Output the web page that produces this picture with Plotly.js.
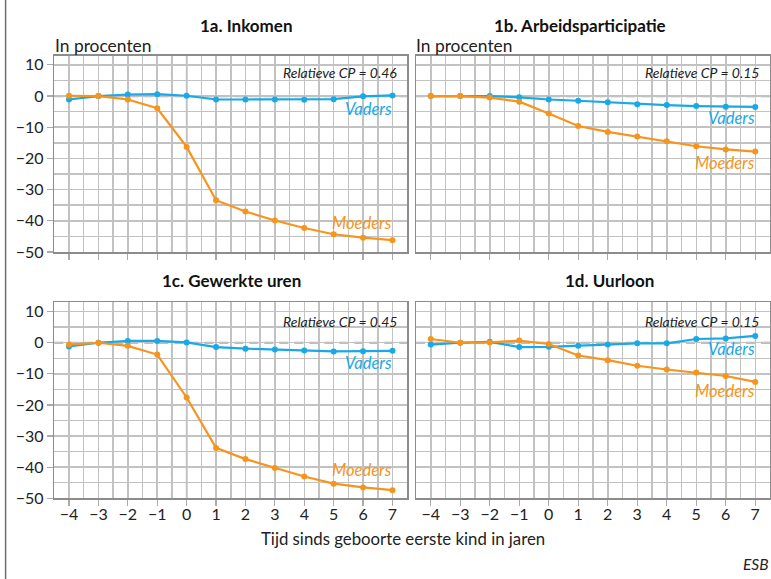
<!DOCTYPE html>
<html>
<head>
<meta charset="utf-8">
<script src="https://cdn.plot.ly/plotly-3.0.1.min.js"></script>
<style>
html,body{margin:0;padding:0;background:#fff;}
#chart{width:771px;height:579px;}
</style>
</head>
<body>
<div id="chart"></div>
<script>
// ---- data ----
const years = [-4, -3, -2, -1, 0, 1, 2, 3, 4, 5, 6, 7];
const tickLabels = ['−4', '−3', '−2', '−1', '0', '1', '2', '3', '4', '5', '6', '7'];

const inkomenVaders   = [-1.1, 0, 0.5, 0.6, 0.1, -1.1, -1.1, -1.1, -1.2, -1.0, -0.1, 0.2];
const inkomenMoeders  = [0.1, 0, -1.1, -3.9, -16.3, -33.4, -37.0, -39.9, -42.3, -44.3, -45.4, -46.2];
const arbeidVaders    = [0, 0, 0, -0.4, -1.1, -1.5, -2.0, -2.6, -2.9, -3.2, -3.4, -3.5];
const arbeidMoeders   = [0, 0, -0.5, -1.8, -5.6, -9.6, -11.5, -13.0, -14.5, -16.1, -17.1, -17.8];
const urenVaders      = [-1.2, 0, 0.6, 0.6, 0.1, -1.4, -1.9, -2.2, -2.5, -2.8, -2.7, -2.6];
const urenMoeders     = [-0.6, 0, -1.0, -3.8, -17.6, -33.8, -37.4, -40.3, -43.0, -45.3, -46.5, -47.4];
const uurloonVaders   = [-0.6, 0, 0.3, -1.4, -1.3, -1.0, -0.6, -0.2, -0.2, 1.2, 1.4, 2.2];
const uurloonMoeders  = [1.2, 0, 0.1, 0.7, -0.4, -4.1, -5.6, -7.4, -8.6, -9.6, -10.7, -12.6];

const panelTitles = ['1a. Inkomen', '1b. Arbeidsparticipatie', '1c. Gewerkte uren', '1d. Uurloon'];
const cpLabels = ['Relatieve CP = 0.46', 'Relatieve CP = 0.15', 'Relatieve CP = 0.45', 'Relatieve CP = 0.15'];

// ---- styling ----
const W = 771, H = 579;
const BLUE = '#18a9e6';
const ORANGE = '#f7941d';
const GRID = '#c2c2c2';
const AXLINE = '#8c8c8c';
const FONT = 'Lato, "Open Sans", sans-serif';

const px = v => v / W;
const py = v => 1 - v / H;

const xDomL = [px(54.3), px(407.2)];
const xDomR = [px(416), px(770)];
const yDomT = [py(252), py(55.5)];
const yDomB = [py(498.3), py(302.3)];

function xAx(domain, anchor, labels) {
  return {
    domain: domain, anchor: anchor, range: [-4.5, 7.5],
    tickmode: 'array', tickvals: years, ticktext: tickLabels,
    showticklabels: labels, ticks: 'outside', ticklen: 6, tickwidth: 1.2, tickcolor: '#aaa',
    ticklabelstandoff: -5,
    tickfont: {family: FONT, size: 16, color: '#222'},
    showgrid: true, gridcolor: GRID, gridwidth: 1.5,
    minor: {tickmode: 'array', tickvals: years.map(v => v + 0.5).concat([-4.5]), showgrid: true, gridcolor: GRID, gridwidth: 1.5, ticks: ''},
    showline: true, linecolor: AXLINE, linewidth: 1.5, mirror: true,
    zeroline: false, fixedrange: true
  };
}
function yAx(domain, anchor, labels) {
  return {
    domain: domain, anchor: anchor, range: [-50, 13],
    tickmode: 'linear', tick0: 0, dtick: 10,
    showticklabels: labels, ticks: labels ? 'outside' : '', ticklen: 6, tickwidth: 1.2, tickcolor: '#aaa',
    tickfont: {family: FONT, size: 16, color: '#222'},
    showgrid: true, gridcolor: GRID, gridwidth: 1.5,
    minor: {tick0: 0, dtick: 5, showgrid: true, gridcolor: GRID, gridwidth: 1.5, ticks: ''},
    showline: true, linecolor: AXLINE, linewidth: 1.5, mirror: true,
    zeroline: false, fixedrange: true
  };
}

function series(y, color, xa, ya, name) {
  return {
    x: years, y: y, type: 'scatter', mode: 'lines+markers', name: name,
    xaxis: xa, yaxis: ya, showlegend: false, hoverinfo: 'skip',
    line: {color: color, width: 2.2}, marker: {color: color, size: 6}
  };
}

const data = [
  series(inkomenVaders, BLUE, 'x', 'y', 'Vaders'),
  series(inkomenMoeders, ORANGE, 'x', 'y', 'Moeders'),
  series(arbeidVaders, BLUE, 'x2', 'y2', 'Vaders'),
  series(arbeidMoeders, ORANGE, 'x2', 'y2', 'Moeders'),
  series(urenVaders, BLUE, 'x3', 'y3', 'Vaders'),
  series(urenMoeders, ORANGE, 'x3', 'y3', 'Moeders'),
  series(uurloonVaders, BLUE, 'x4', 'y4', 'Vaders'),
  series(uurloonMoeders, ORANGE, 'x4', 'y4', 'Moeders')
];

const shapes = [];
const annotations = [];
const pairs = [['x', 'y'], ['x2', 'y2'], ['x3', 'y3'], ['x4', 'y4']];
pairs.forEach(([xa, ya]) => {
  shapes.push({type: 'line', layer: 'below', xref: xa, yref: ya + ' domain', x0: 0, x1: 0, y0: 0, y1: 1,
    line: {color: '#8a8a8a', width: 1.5}});
  shapes.push({type: 'line', layer: 'below', xref: xa, yref: ya + ' domain', x0: -0.5, x1: -0.5, y0: 0, y1: 1,
    line: {color: '#9a9a9a', width: 2, dash: '6px,5px'}});
  shapes.push({type: 'line', layer: 'below', xref: xa + ' domain', yref: ya, x0: 0, x1: 1, y0: 0, y1: 0,
    line: {color: '#a8a8a8', width: 2.2, dash: '9px,6px'}});
});
// frame line on the left
shapes.push({type: 'line', xref: 'paper', yref: 'paper', x0: px(5.6), x1: px(5.6), y0: 0, y1: 1,
  line: {color: '#6e6e6e', width: 1.5}});

// panel titles
const titlePos = [[246, 25], [580, 25], [231, 280], [609, 280]];
panelTitles.forEach((t, i) => {
  annotations.push({text: '<b>' + t + '</b>', xref: 'paper', yref: 'paper', x: px(titlePos[i][0]), y: py(titlePos[i][1]),
    xanchor: 'center', yanchor: 'middle', showarrow: false, font: {family: FONT, size: 17, color: '#111', weight: 900}});
});
// unit labels
[[53, 45], [414, 45]].forEach(p => {
  annotations.push({text: 'In procenten', xref: 'paper', yref: 'paper', x: px(p[0]), y: py(p[1]),
    xanchor: 'left', yanchor: 'middle', showarrow: false, font: {family: FONT, size: 17.4, color: '#222'}});
});
// CP labels
const cpPos = [[399, 73], [761, 73], [399, 321], [761, 321]];
cpLabels.forEach((t, i) => {
  annotations.push({text: '<i>' + t + '</i>', xref: 'paper', yref: 'paper', x: px(cpPos[i][0]), y: py(cpPos[i][1]),
    xanchor: 'right', yanchor: 'middle', showarrow: false, font: {family: FONT, size: 14, color: '#222'}});
});
// series labels
const vadersY = [-4.2, -7.1, -6.5, -2.1];
const moedersY = [-40.8, -21.5, -40.9, -15.6];
pairs.forEach(([xa, ya], i) => {
  annotations.push({text: '<i>Vaders</i>', xref: xa, yref: ya, x: 7.05, y: vadersY[i], xanchor: 'right', yanchor: 'middle',
    showarrow: false, font: {family: FONT, size: 16.5, color: BLUE}});
  annotations.push({text: '<i>Moeders</i>', xref: xa, yref: ya, x: 7.05, y: moedersY[i], xanchor: 'right', yanchor: 'middle',
    showarrow: false, font: {family: FONT, size: 16.5, color: ORANGE}});
});
// axis title & source
annotations.push({text: 'Tijd sinds geboorte eerste kind in jaren', xref: 'paper', yref: 'paper', x: px(403), y: py(538),
  xanchor: 'center', yanchor: 'middle', showarrow: false, font: {family: FONT, size: 16.8, color: '#222'}});
annotations.push({text: '<i>ESB</i>', xref: 'paper', yref: 'paper', x: 1, y: py(564),
  xanchor: 'right', yanchor: 'middle', showarrow: false, font: {family: FONT, size: 15.5, color: '#222'}});

const layout = {
  width: W, height: H,
  margin: {l: 0, r: 0, t: 0, b: 0, pad: 0},
  paper_bgcolor: '#fff', plot_bgcolor: '#fff',
  font: {family: FONT, size: 15, color: '#222'},
  showlegend: false,
  xaxis: xAx(xDomL, 'y', false),
  yaxis: yAx(yDomT, 'x', true),
  xaxis2: xAx(xDomR, 'y2', false),
  yaxis2: yAx(yDomT, 'x2', false),
  xaxis3: xAx(xDomL, 'y3', true),
  yaxis3: yAx(yDomB, 'x3', true),
  xaxis4: xAx(xDomR, 'y4', true),
  yaxis4: yAx(yDomB, 'x4', false),
  shapes: shapes,
  annotations: annotations
};

Plotly.newPlot('chart', data, layout, {displayModeBar: false, staticPlot: true});
</script>
</body>
</html>
